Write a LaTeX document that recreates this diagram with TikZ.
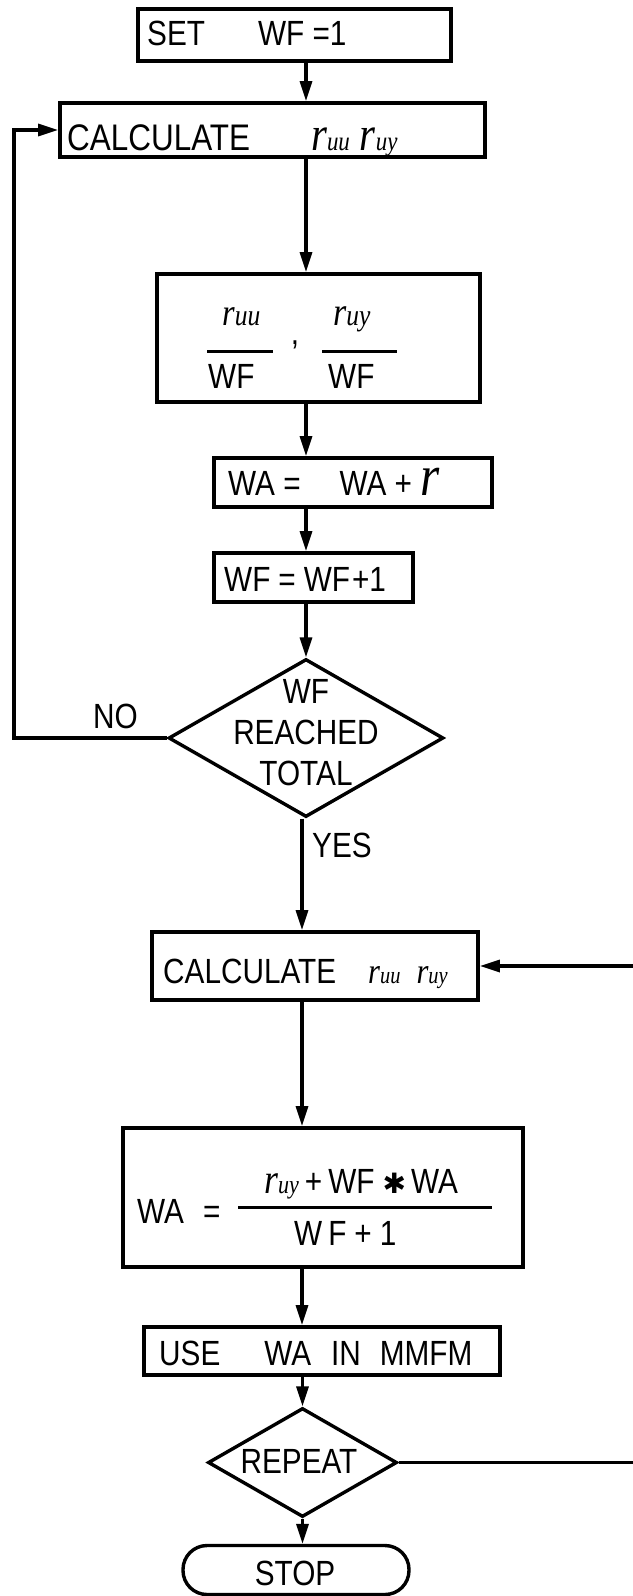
\documentclass[tikz,border=0pt]{standalone}
\usepackage{fontspec}
\setmainfont{Liberation Sans}[FakeStretch=0.85]
\newfontfamily\symfont{DejaVu Sans}
\newfontfamily\handfont{Liberation Serif}[FakeStretch=0.85]
% handwritten-like r with subscript: #1 size of r, #2 size of subscript, #3 subscript
\newcommand{\rsym}[3]{{\handfont\itshape\fontsize{#1}{#1}\selectfont r\fontsize{#2}{#2}\selectfont #3}}
\usetikzlibrary{arrows.meta,shapes.geometric,calc}
\begin{document}
\begin{tikzpicture}[x=1pt,y=-1pt,
  box/.style={draw, rectangle, inner sep=0pt, line width=3.6pt},
  dia/.style={draw, diamond, inner sep=0pt, line width=3.4pt},
  termbox/.style={draw, rectangle, rounded corners=24pt, inner sep=0pt, line width=3.4pt},
  arr/.style={line width=3.2pt, -{Triangle[length=20pt,width=12pt]}},
  ln/.style={line width=3pt},
  txt/.style={inner sep=0pt, font=\fontsize{35}{41}\selectfont}]
\fill[white] (0,0) rectangle (632,1596);
\useasboundingbox (0,0) rectangle (632,1596);
% trunk and loop coordinates
\coordinate (tA) at (306,0);
\coordinate (tB) at (302,0);
\coordinate (lx) at (14,0);
\coordinate (rx) at (645,0);
% boxes
\node[box, minimum width=313pt, minimum height=52pt] (set) at (294.5,35) {};
\node[box, minimum width=425pt, minimum height=54pt] (calc1) at (272.5,130) {};
\node[box, minimum width=323pt, minimum height=128pt] (frac) at (318.5,338) {};
\node[box, minimum width=278pt, minimum height=49pt] (wa) at (353,482.5) {};
\node[box, minimum width=199pt, minimum height=49pt] (wf) at (313.5,577.5) {};
\node[dia, minimum width=275pt, minimum height=158pt] (dia1) at (306,738) {};
\node[box, minimum width=326pt, minimum height=68pt] (calc2) at (315,966) {};
\node[box, minimum width=400pt, minimum height=139pt] (wa2) at (323,1197.5) {};
\node[box, minimum width=356pt, minimum height=48pt] (use) at (322,1351) {};
\node[dia, minimum width=189pt, minimum height=109pt] (dia2) at (302.5,1462.5) {};
\node[termbox, minimum width=226pt, minimum height=49pt] (stop) at (296,1570) {};
% texts
\node[txt, anchor=base west] (setT) at (147,45) {SET\hspace{53pt}WF =1};
\node[txt, anchor=base west, font=\fontsize{37}{41}\selectfont] (calc1T) at (67,150)
  {CALCULATE\hspace{61pt}\rsym{48}{27}{uu}\hspace{10pt}\rsym{48}{27}{uy}};
\node[txt, anchor=base west] (n1) at (222,325) {\rsym{38}{30}{uu}};
\draw[ln] (207,351) -- (273,351);
\node[txt, anchor=base west] (d1) at (208,388) {WF};
\node[txt, anchor=base] (comma) at (295,344) {,};
\node[txt, anchor=base west] (n2) at (333,325) {\rsym{40}{30}{uy}};
\draw[ln] (322,351) -- (397,351);
\node[txt, anchor=base west] (d2) at (328,388) {WF};
\node[txt, anchor=base west] (waT) at (228,495) {WA =\hspace{39pt}WA + {\handfont\itshape\fontsize{58}{58}\selectfont r}};
\node[txt, anchor=base west] (wfT) at (224,591) {WF\hspace{8pt}=\hspace{8pt}WF\hspace{2pt}+1};
\node[txt, align=center] (dia1T) at (306,733) {WF\\REACHED\\TOTAL};
\node[txt, anchor=base west] (noT) at (93,728) {NO};
\node[txt, anchor=base west] (yesT) at (312,857) {YES};
\node[txt, anchor=base west] (calc2T) at (163,983)
  {CALCULATE\hspace{32pt}\rsym{36}{24}{uu}\hspace{16pt}\rsym{36}{24}{uy}};
\node[txt, anchor=base west] (wa2L) at (137,1223) {WA\hspace{19pt}=};
\draw[ln] (238,1207) -- (492,1207);
\node[txt, anchor=base west] (num) at (264,1193)
  {\rsym{42}{26}{uy}\hspace{6pt}+\hspace{6pt}WF\hspace{8pt}{\symfont\fontsize{28}{30}\selectfont ✱}\hspace{5pt}WA};
\node[txt, anchor=base west] (den) at (294,1245) {W\hspace{6pt}F\hspace{8pt}+\hspace{8pt}1};
\node[txt, anchor=base west] (useT) at (159,1365) {USE\hspace{44pt}WA\hspace{20pt}IN\hspace{19pt}MMFM};
\node[txt, anchor=base] (repT) at (299,1473) {REPEAT};
\node[txt, anchor=base] (stopT) at (295,1585) {STOP};
% connectors
\draw[arr] (set.south -| tA) -- (calc1.north -| tA);
\draw[arr] (calc1.south -| tA) -- (frac.north -| tA);
\draw[arr] (frac.south -| tA) -- (wa.north -| tA);
\draw[arr] (wa.south -| tA) -- (wf.north -| tA);
\draw[arr] (wf.south -| dia1.north) -- (dia1.north);
\draw[arr] (dia1.west) -- (dia1.west -| lx) |- (calc1.west);
\draw[arr] (dia1.south -| tB) -- (calc2.north -| tB);
\draw[arr] (calc2.south -| tB) -- (wa2.north -| tB);
\draw[arr] (wa2.south -| tB) -- (use.north -| tB);
\draw[arr] (use.south -| dia2.north) -- (dia2.north);
\draw[arr] (dia2.south) -- (stop.north -| dia2.south);
\draw[arr] (dia2.east) -- (dia2.east -| rx) |- (calc2.east);
\end{tikzpicture}
\end{document}
